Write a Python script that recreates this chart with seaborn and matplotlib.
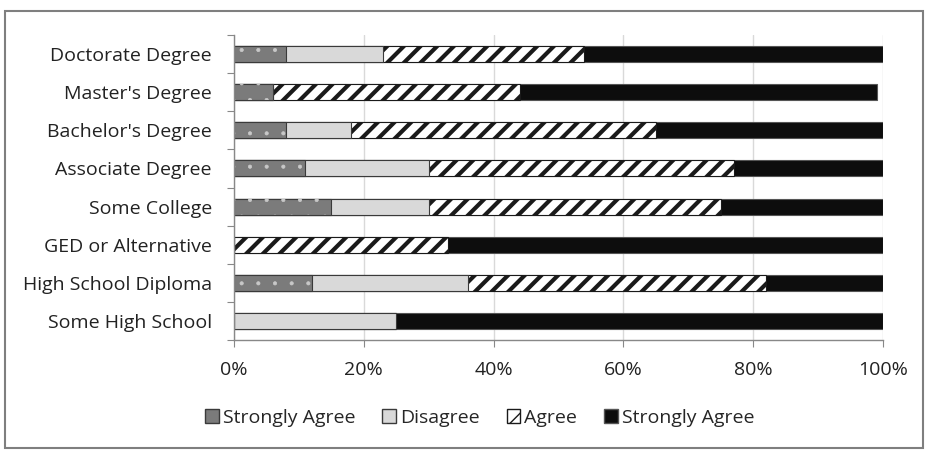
import numpy as np
import pandas as pd
import matplotlib
matplotlib.use("Agg")
import matplotlib.pyplot as plt
from matplotlib.patches import Patch, Rectangle
import seaborn as sns

# Data (percent of respondents)
categories = ["Doctorate Degree", "Master's Degree", "Bachelor's Degree",
              "Associate Degree", "Some College", "GED or Alternative",
              "High School Diploma", "Some High School"]
strongly_disagree = [8, 6, 8, 11, 15, 0, 12, 0]
disagree = [15, 0, 10, 19, 15, 0, 24, 25]
agree = [31, 38, 47, 47, 45, 33, 46, 0]
strongly_agree = [46, 55, 35, 23, 25, 67, 18, 75]
legend_labels = ["Strongly Agree", "Disagree", "Agree", "Strongly Agree"]
xticks = [0, 20, 40, 60, 80, 100]

sns.set_style("white")
plt.rcParams['font.family'] = ['Open Sans', 'DejaVu Sans']
fs = 14

df = pd.DataFrame({
    "cat": categories,
    "sd": strongly_disagree,
    "d": disagree,
    "a": agree,
    "sa": strongly_agree,
})
df["c1"] = df["sd"]
df["c2"] = df["c1"] + df["d"]
df["c3"] = df["c2"] + df["a"]
df["c4"] = df["c3"] + df["sa"]

fig = plt.figure(figsize=(9.28, 4.51), dpi=100)
ax = fig.add_axes([0.2522, 0.2461, 0.6993, 0.6763])

edge = "#3a3a3a"
bw = 0.42
# stacked by drawing cumulative totals back to front
sns.barplot(data=df, x="c4", y="cat", orient="h", color="#0d0d0d",
            edgecolor="#555555", linewidth=0.8, width=bw, ax=ax, saturation=1)
with plt.rc_context({"hatch.linewidth": 3.0}):
    sns.barplot(data=df, x="c3", y="cat", orient="h", color="white", hatch="//",
                edgecolor="#1a1a1a", linewidth=0.8, width=bw, ax=ax, saturation=1)
sns.barplot(data=df, x="c2", y="cat", orient="h", color="#d9d9d9",
            edgecolor=edge, linewidth=0.8, width=bw, ax=ax, saturation=1)
sns.barplot(data=df, x="c1", y="cat", orient="h", color="#7b7b7b",
            edgecolor=edge, linewidth=0.8, width=bw, ax=ax, saturation=1)
# faint white dots on the first segment
with plt.rc_context({"hatch.linewidth": 0.5}):
    sns.barplot(data=df, x="c1", y="cat", orient="h", color="none", fill=False,
                hatch=".", edgecolor="#c8c8c8", linewidth=0, width=bw, ax=ax)

ax.set_xlim(0, 100)
ax.set_ylim(7.5, -0.5)
ax.set_xticks(xticks)
ax.set_xticklabels([f"{t}%" for t in xticks], fontsize=fs, color="#222222")
ax.set_yticks(np.arange(-0.5, 8, 1))
ax.set_yticklabels([])
ax.set_yticks(np.arange(len(categories)), minor=True)
ax.set_yticklabels(categories, minor=True, fontsize=fs, color="#222222")
ax.tick_params(axis="y", which="major", direction="out", length=5,
               color="#888888", left=True)
ax.tick_params(axis="y", which="minor", length=0, pad=16)
ax.tick_params(axis="x", direction="out", length=5, color="#888888",
               bottom=True, pad=10)
ax.set_xlabel("")
ax.set_ylabel("")
ax.xaxis.grid(True, color="#d9d9d9", linewidth=1)
ax.set_axisbelow(True)
for s in ["top", "right"]:
    ax.spines[s].set_visible(False)
for s in ["left", "bottom"]:
    ax.spines[s].set_color("#888888")
    ax.spines[s].set_linewidth(1)

with plt.rc_context({"hatch.linewidth": 1.5}):
    handles = [
        Patch(facecolor="#7b7b7b", edgecolor=edge),
        Patch(facecolor="#d9d9d9", edgecolor=edge),
        Patch(facecolor="white", edgecolor="#1a1a1a", hatch="//"),
        Patch(facecolor="#0d0d0d", edgecolor="#555555"),
    ]
fig.legend(handles, legend_labels, loc="center", bbox_to_anchor=(0.517, 0.073),
           ncol=4, frameon=False, fontsize=fs, handlelength=0.7,
           handleheight=0.7, handletextpad=0.2, columnspacing=1.4)

fig.patches.append(Rectangle((0.005, 0.007), 0.99, 0.968, transform=fig.transFigure,
                             fill=False, edgecolor="#7f7f7f", linewidth=1.5))

fig.savefig("out.png", dpi=100)
